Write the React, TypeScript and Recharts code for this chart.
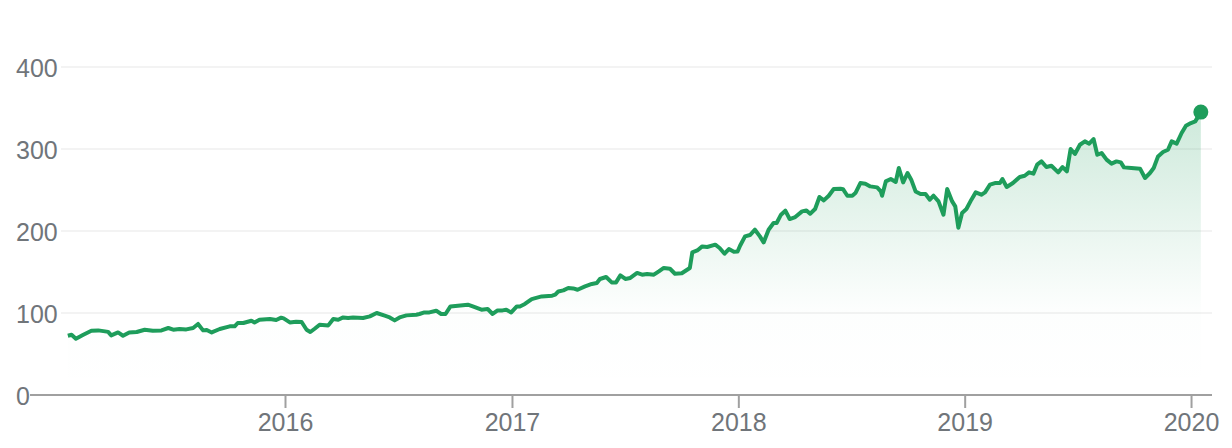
import React from "react";
import { ComposedChart, Area, XAxis, YAxis, ReferenceDot, CartesianGrid } from "recharts";

const dates = [
  "2015-01-15","2015-01-21","2015-01-28","2015-02-09","2015-02-22","2015-03-05","2015-03-16","2015-03-21","2015-03-26","2015-04-06",
  "2015-04-14","2015-04-24","2015-05-06","2015-05-19","2015-06-01","2015-06-15","2015-06-26","2015-07-04","2015-07-14","2015-07-25",
  "2015-08-05","2015-08-13","2015-08-21","2015-08-27","2015-09-04","2015-09-17","2015-10-03","2015-10-11","2015-10-16","2015-10-25",
  "2015-11-07","2015-11-12","2015-11-20","2015-12-07","2015-12-17","2015-12-25","2015-12-29","2016-01-08","2016-01-18","2016-01-27",
  "2016-02-04","2016-02-10","2016-02-17","2016-02-25","2016-03-10","2016-03-18","2016-03-26","2016-04-03","2016-04-11","2016-04-19",
  "2016-05-05","2016-05-16","2016-05-27","2016-06-09","2016-06-17","2016-06-25","2016-07-03","2016-07-14","2016-07-30","2016-08-04",
  "2016-08-12","2016-08-20","2016-08-31","2016-09-08","2016-09-15","2016-09-23","2016-10-05","2016-10-21","2016-10-29","2016-11-12",
  "2016-11-22","2016-11-30","2016-12-08","2016-12-16","2016-12-22","2016-12-30","2017-01-08","2017-01-13","2017-01-21","2017-02-01",
  "2017-02-17","2017-03-06","2017-03-11","2017-03-16","2017-03-24","2017-04-01","2017-04-09","2017-04-16","2017-04-28","2017-05-09",
  "2017-05-17","2017-05-22","2017-06-01","2017-06-10","2017-06-17","2017-06-24","2017-07-02","2017-07-10","2017-07-21","2017-07-29",
  "2017-08-06","2017-08-17","2017-08-25","2017-09-02","2017-09-12","2017-09-20","2017-10-01","2017-10-14","2017-10-18","2017-10-26",
  "2017-11-03","2017-11-11","2017-11-24","2017-12-01","2017-12-09","2017-12-16","2017-12-24","2017-12-30","2018-01-03","2018-01-11",
  "2018-01-19","2018-01-27","2018-02-04","2018-02-10","2018-02-18","2018-02-26","2018-03-03","2018-03-10","2018-03-17","2018-03-24",
  "2018-04-02","2018-04-13","2018-04-20","2018-04-26","2018-05-04","2018-05-11","2018-05-18","2018-05-26","2018-06-03","2018-06-14",
  "2018-06-18","2018-06-25","2018-07-03","2018-07-08","2018-07-16","2018-07-24","2018-08-01","2018-08-12","2018-08-18","2018-08-20",
  "2018-08-26","2018-09-03","2018-09-11","2018-09-16","2018-09-23","2018-09-30","2018-10-06","2018-10-13","2018-10-21","2018-10-29",
  "2018-11-05","2018-11-11","2018-11-19","2018-11-27","2018-12-03","2018-12-11","2018-12-16","2018-12-21","2018-12-27","2019-01-03",
  "2019-01-11","2019-01-18","2019-01-27","2019-02-02","2019-02-10","2019-02-18","2019-02-26","2019-03-02","2019-03-09","2019-03-19",
  "2019-03-30","2019-04-07","2019-04-14","2019-04-21","2019-04-27","2019-05-04","2019-05-12","2019-05-20","2019-05-31","2019-06-07",
  "2019-06-14","2019-06-20","2019-06-27","2019-07-05","2019-07-13","2019-07-20","2019-07-27","2019-08-02","2019-08-09","2019-08-17",
  "2019-08-25","2019-09-02","2019-09-09","2019-09-14","2019-09-26","2019-10-10","2019-10-18","2019-10-26","2019-11-01","2019-11-08",
  "2019-11-16","2019-11-24","2019-11-30","2019-12-08","2019-12-16","2019-12-23","2019-12-31","2020-01-07","2020-01-16",
];

const prices = [
  72.3,73.5,68.7,73.5,78.4,78.8,77.6,77.0,72.7,76.3,
  72.3,76.3,76.8,79.6,78.4,78.8,81.7,79.6,80.5,80.0,
  81.7,86.6,78.8,79.3,76.3,80.5,83.7,83.7,87.8,87.8,
  90.6,88.5,91.8,92.7,91.5,94.3,93.4,88.5,89.4,89.0,
  79.6,76.8,80.8,85.7,84.9,92.7,91.8,94.6,93.9,94.6,
  93.9,95.9,100.0,96.7,94.6,91.0,94.6,97.1,97.9,98.8,
  100.7,100.7,102.8,98.8,98.8,108.0,108.9,110.1,108.0,104.0,
  104.9,98.8,103.2,103.2,104.0,100.7,108.0,108.0,111.0,117.0,
  120.2,121.1,122.3,126.3,127.6,130.5,130.0,128.4,132.4,135.4,
  136.6,141.5,143.9,137.3,137.3,145.9,141.5,142.7,148.8,146.7,
  147.6,146.7,150.7,154.9,154.0,147.9,148.5,154.9,173.9,176.3,
  181.2,180.5,183.3,179.3,172.3,178.0,174.8,175.0,182.0,193.4,
  195.1,201.6,193.4,186.1,201.6,209.8,209.8,219.9,224.8,214.6,
  217.0,223.9,225.1,221.1,226.8,241.5,237.3,243.0,251.2,251.6,
  251.0,243.0,243.0,246.3,258.5,257.7,254.4,253.2,248.3,243.0,
  260.5,263.4,259.8,276.8,259.3,270.7,262.6,248.3,245.1,245.1,
  238.2,243.0,236.1,219.9,251.2,236.1,230.0,204.0,222.0,226.8,
  238.2,247.1,244.3,247.1,256.5,258.5,258.5,263.4,253.7,258.5,
  265.9,267.4,271.5,269.9,280.9,284.9,278.0,279.6,271.5,278.0,
  272.7,300.0,293.9,305.2,309.3,306.5,312.2,293.0,295.1,287.0,
  282.1,284.9,283.7,277.6,276.8,276.0,264.6,270.7,276.8,291.0,
  296.3,299.1,309.3,306.5,319.5,328.4,331.7,333.7,345.0,
];

const yearTicks = ["2016", "2017", "2018", "2019", "2020"];
const valueTicks = [0, 100, 200, 300, 400];

const data = dates.map((d, i) => ({ t: Date.parse(d), price: prices[i] }));
const last = data[data.length - 1];

const GREEN = "#1e9d5b";
const LABEL = "#70757a";
const FONT = "'Liberation Sans', Arial, Helvetica, sans-serif";

const renderYTick = (props: any) => {
  const { y, payload } = props;
  const v = payload.value;
  return (
    <text key={"yt" + v} x={16} y={y + 9.5} fill={LABEL} fontSize={25} fontFamily={FONT} textAnchor="start">
      {v}
    </text>
  );
};

const renderXTick = (props: any) => {
  const { x, y, payload } = props;
  return (
    <text key={"xt" + payload.value} x={x} y={y + 23} fill={LABEL} fontSize={25} fontFamily={FONT} textAnchor="middle">
      {new Date(payload.value).getUTCFullYear()}
    </text>
  );
};

const renderGridLine = (props: any) => {
  const { y1, x2, index } = props;
  if (y1 > 390) return <g key={"g" + index} />;
  return <line key={"g" + index} x1={61} x2={x2} y1={y1} y2={y1} stroke="#f3f3f3" strokeWidth={2} />;
};

export default function App() {
  return (
    <div style={{ position: "absolute", left: 0, top: 0, width: 1232, height: 448, background: "#fff" }}>
      <ComposedChart
        width={1232}
        height={448}
        data={data}
        margin={{ top: 67, right: 20, bottom: 0, left: 0 }}
      >
        <defs>
          <linearGradient id="fillGreen" x1="0" y1="0" x2="0" y2="1">
            <stop offset="0%" stopColor={GREEN} stopOpacity={0.22} />
            <stop offset="70%" stopColor={GREEN} stopOpacity={0.01} />
            <stop offset="100%" stopColor={GREEN} stopOpacity={0} />
          </linearGradient>
        </defs>
        <CartesianGrid vertical={false} horizontal={renderGridLine} />
        <YAxis
          type="number"
          domain={[0, 400]}
          ticks={valueTicks}
          width={30}
          axisLine={false}
          tickLine={false}
          tick={renderYTick}
          interval={0}
        />
        <XAxis
          dataKey="t"
          type="number"
          scale="time"
          domain={[Date.parse("2014-11-15"), Date.parse("2020-02-03")]}
          allowDataOverflow
          ticks={yearTicks.map((y) => Date.parse(y + "-01-01"))}
          interval={0}
          height={53}
          tickSize={13}
          tickMargin={0}
          axisLine={{ stroke: "#a0a0a0", strokeWidth: 2 }}
          tickLine={{ stroke: "#a0a0a0", strokeWidth: 2 }}
          tick={renderXTick}
        />
        <Area
          type="linear"
          dataKey="price"
          stroke={GREEN}
          strokeWidth={4}
          fill="url(#fillGreen)"
          fillOpacity={1}
          dot={false}
          activeDot={false}
          isAnimationActive={false}
          strokeLinejoin="round"
        />
        <ReferenceDot x={last.t} y={last.price} r={7.5} fill={GREEN} stroke="none" ifOverflow="visible" />
      </ComposedChart>
    </div>
  );
}
